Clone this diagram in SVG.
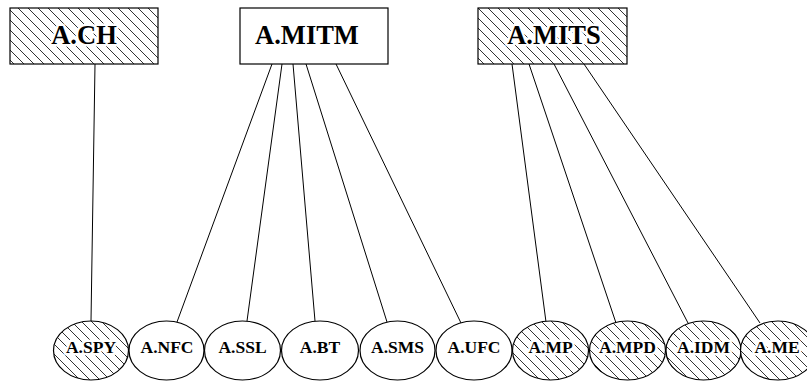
<svg xmlns="http://www.w3.org/2000/svg" width="807" height="381" viewBox="0 0 807 381">
  <style>
    .box { stroke: #000; stroke-width: 1.2; }
    .node { stroke: #000; stroke-width: 1.2; fill: #fff; }
    .hatched { fill: url(#hatch); }
    .plain { fill: #fff; }
    .lbl { font-family: 'Liberation Serif', 'DejaVu Serif', serif; font-weight: bold; text-anchor: middle; fill: #000; stroke: #fff; stroke-width: 5; stroke-linejoin: round; paint-order: stroke; }
    .big { font-size: 26.5px; }
    .small { font-size: 17.5px; }
    .edge { stroke: #000; stroke-width: 1; fill: none; }
  </style>
  <defs>
    <pattern id="hatch" patternUnits="userSpaceOnUse" width="10" height="10">
      <rect width="10" height="10" fill="#fff"/>
      <path d="M-1,-1 L11,11 M-6,4 L1,11 M4,-6 L11,1" stroke="#333" stroke-width="1"/>
    </pattern>
  </defs>
  <rect width="807" height="381" fill="#fff"/>

  <g id="edges">
    <line class="edge" x1="95" y1="64" x2="91" y2="321"/>
    <line class="edge" x1="272" y1="64" x2="177" y2="322"/>
    <line class="edge" x1="282" y1="64" x2="247" y2="321"/>
    <line class="edge" x1="293" y1="64" x2="315" y2="321"/>
    <line class="edge" x1="306" y1="64" x2="387" y2="322"/>
    <line class="edge" x1="336" y1="64" x2="461" y2="323"/>
    <line class="edge" x1="512" y1="64" x2="546" y2="322"/>
    <line class="edge" x1="529" y1="64" x2="616" y2="323"/>
    <line class="edge" x1="554" y1="64" x2="688" y2="323"/>
    <line class="edge" x1="584" y1="64" x2="760" y2="323"/>
  </g>

  <g id="A.CH">
    <rect class="box hatched" x="10" y="8" width="148" height="56"/>
    <text class="lbl big" font-family="Liberation Serif" x="84" y="44">A.CH</text>
  </g>
  <g id="A.MITM">
    <rect class="box plain" x="240" y="8" width="148" height="56"/>
    <text class="lbl big" font-family="Liberation Serif" x="307" y="44">A.MITM</text>
  </g>
  <g id="A.MITS">
    <rect class="box hatched" x="478" y="8" width="149" height="56"/>
    <text class="lbl big" font-family="Liberation Serif" x="554" y="44">A.MITS</text>
  </g>

  <g id="A.SPY">
    <ellipse class="node hatched" cx="91" cy="350.5" rx="37.5" ry="29.5"/>
    <text class="lbl small" font-family="Liberation Serif" x="91" y="353">A.SPY</text>
  </g>
  <g id="A.NFC">
    <ellipse class="node" cx="166.5" cy="350.5" rx="37.5" ry="29.5"/>
    <text class="lbl small" font-family="Liberation Serif" x="167" y="353">A.NFC</text>
  </g>
  <g id="A.SSL">
    <ellipse class="node" cx="242.5" cy="350.5" rx="38" ry="29.5"/>
    <text class="lbl small" font-family="Liberation Serif" x="242.5" y="353">A.SSL</text>
  </g>
  <g id="A.BT">
    <ellipse class="node" cx="320" cy="350.5" rx="38.5" ry="29.5"/>
    <text class="lbl small" font-family="Liberation Serif" x="320" y="353">A.BT</text>
  </g>
  <g id="A.SMS">
    <ellipse class="node" cx="397.5" cy="350.5" rx="37.5" ry="29.5"/>
    <text class="lbl small" font-family="Liberation Serif" x="397.5" y="353">A.SMS</text>
  </g>
  <g id="A.UFC">
    <ellipse class="node" cx="474" cy="350.5" rx="38" ry="29.5"/>
    <text class="lbl small" font-family="Liberation Serif" x="474" y="353">A.UFC</text>
  </g>
  <g id="A.MP">
    <ellipse class="node hatched" cx="550.5" cy="350.5" rx="38" ry="29.5"/>
    <text class="lbl small" font-family="Liberation Serif" x="550.5" y="353">A.MP</text>
  </g>
  <g id="A.MPD">
    <ellipse class="node hatched" cx="627.5" cy="350.5" rx="38" ry="29.5"/>
    <text class="lbl small" font-family="Liberation Serif" x="627.5" y="353">A.MPD</text>
  </g>
  <g id="A.IDM">
    <ellipse class="node hatched" cx="703.5" cy="350.5" rx="37.5" ry="29.5"/>
    <text class="lbl small" font-family="Liberation Serif" x="703.5" y="353">A.IDM</text>
  </g>
  <g id="A.ME">
    <ellipse class="node hatched" cx="778" cy="350.5" rx="37.5" ry="29.5"/>
    <text class="lbl small" font-family="Liberation Serif" x="777" y="353">A.ME</text>
  </g>
</svg>
